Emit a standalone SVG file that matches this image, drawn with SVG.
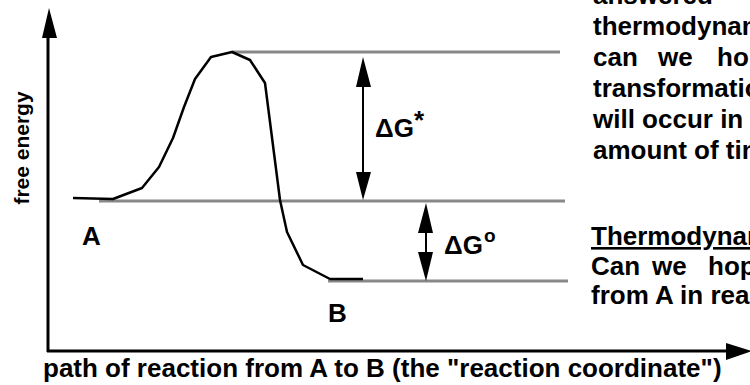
<svg xmlns="http://www.w3.org/2000/svg" width="750" height="385" viewBox="0 0 750 385">
<style>
text{font-family:"Liberation Sans",Arial,sans-serif;font-weight:bold;fill:#000}
.big{font-size:26px}
.lvl{stroke:#888;stroke-width:3;fill:none}
.ax{stroke:#000;stroke-width:3;fill:none}
.curve{stroke:#000;stroke-width:2.5;fill:none;stroke-linejoin:round}
.dbl{stroke:#000;stroke-width:2;fill:none}
</style>
<rect width="750" height="385" fill="#fff"/>
<g id="axes">
<line class="ax" x1="48" y1="36" x2="48" y2="352"/>
<polygon points="49,8 42,38 57,38"/>
<line class="ax" x1="47" y1="351" x2="728" y2="351"/>
<polygon points="752,351 726,343 726,360"/>
</g>
<g id="levels">
<line class="lvl" x1="232" y1="52" x2="560" y2="52"/>
<line class="lvl" x1="99" y1="201" x2="565" y2="201"/>
<line class="lvl" x1="328" y1="281" x2="568" y2="281"/>
</g>
<g id="curve">
<polyline class="curve" points="73,198 113,199 142,188 159,167 173,138 184,107 195,79 211,57 232,52 250,60 265,83 280,200 287,232 303,265 330,279 363,279"/>
</g>
<g id="connectors">
<line class="dbl" x1="363" y1="80" x2="363" y2="178"/>
<polygon points="363,57 356,87 371,87"/>
<polygon points="363,200 356,172 371,172"/>
<line class="dbl" x1="426" y1="228" x2="426" y2="258"/>
<polygon points="426,203 418,233 433,233"/>
<polygon points="426,281 418,252 433,252"/>
</g>
<g id="labels">
<text class="big" x="375" y="137">ΔG<tspan dy="-8">*</tspan></text>
<text class="big" x="444" y="254">ΔG</text>
<text x="484" y="242" style="font-size:19px">o</text>
<text class="big" x="82" y="245">A</text>
<text class="big" x="328" y="322">B</text>
<text x="29" y="148" style="font-size:21px" text-anchor="middle" transform="rotate(-90 29 148)">free energy</text>
<text class="big" x="43" y="377">path of reaction from A to B (the "reaction coordinate")</text>
</g>
<g id="text-kinetics">
<text class="big" x="593" y="4">answered</text>
<text class="big" x="593" y="35">thermodynamics</text>
<text class="big" y="66"><tspan x="593">can</tspan><tspan x="658">we</tspan><tspan x="717">hope</tspan></text>
<text class="big" x="593" y="97">transformation</text>
<text class="big" x="593" y="128">will occur in</text>
<text class="big" x="593" y="159">amount of time</text>
</g>
<g id="text-thermo">
<text class="big" x="591" y="245" text-decoration="underline">Thermodynamics:</text>
<text class="big" y="275"><tspan x="591">Can</tspan><tspan x="652">we</tspan><tspan x="708">hope</tspan></text>
<text class="big" x="591" y="304">from A in reasonable</text>
</g>
</svg>
